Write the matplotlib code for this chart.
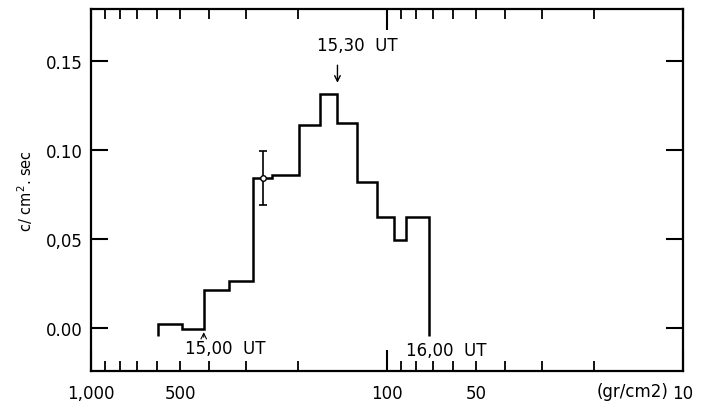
import matplotlib
matplotlib.use("Agg")
import matplotlib.pyplot as plt
from matplotlib.ticker import FixedLocator, FuncFormatter

# Data: atmospheric depth bin edges (g/cm^2) and count rate values
depth_edges = [595, 494, 416, 343, 283, 244, 199, 168, 147, 126, 108, 95, 86, 72]
rate_values = [0.002, -0.001, 0.021, 0.026, 0.084, 0.086, 0.114, 0.131, 0.115,
               0.082, 0.062, 0.049, 0.062]
baseline_value = -0.005

err_depth = [262]
err_value = [0.084]
err_low = [0.069]
err_high = [0.099]

x_major = [1000, 100, 10]
x_major_labels = ["1,000", "100", "10"]
x_minor_labeled = {500: "500", 50: "50"}
y_ticks = [0.00, 0.05, 0.10, 0.15]
y_tick_labels = ["0.00", "0,05", "0.10", "0.15"]

plt.rcParams['font.family'] = ['DejaVu Sans']

fig = plt.figure(figsize=(7.01, 4.06), dpi=100)
ax = fig.add_axes([0.1298, 0.0837, 0.8445, 0.8916])

ax.stairs(rate_values, depth_edges, baseline=baseline_value, fill=False,
          color='black', linewidth=1.8)

ax.errorbar(err_depth, err_value,
            yerr=[[err_value[0] - err_low[0]], [err_high[0] - err_value[0]]],
            fmt='o', mfc='white', mec='black', ms=4, color='black',
            elinewidth=1.2, capsize=3, capthick=1.2)

ax.set_xscale('log')
ax.set_xlim(1000, 10)
ax.set_ylim(-0.0244, 0.179)

ax.xaxis.set_major_locator(FixedLocator(x_major))
ax.set_xticklabels(x_major_labels)
minors = [m * d for d in (10, 100) for m in range(2, 10)]
ax.xaxis.set_minor_locator(FixedLocator(minors))
ax.xaxis.set_minor_formatter(FuncFormatter(
    lambda v, p: x_minor_labeled.get(int(round(v)), "")))

ax.set_yticks(y_ticks)
ax.set_yticklabels(y_tick_labels)

ax.tick_params(axis='both', which='major', direction='in', length=15, width=1.5,
               labelsize=12, top=True, right=True, pad=9)
ax.tick_params(axis='x', which='minor', direction='in', length=7, width=1.3,
               labelsize=12, top=True, pad=9)
ax.tick_params(axis='y', which='major', length=12, pad=6)

for s in ax.spines.values():
    s.set_linewidth(1.6)

ax.set_ylabel("c/ cm$^2$. sec", fontsize=10.5, labelpad=8)

# annotations
ax.annotate("", xy=(147, 0.136), xytext=(147, 0.149),
            arrowprops=dict(arrowstyle='->', color='black', lw=1.0))
ax.text(172, 0.159, "15,30  UT", fontsize=12, ha='left', va='center')

ax.annotate("", xy=(416, -0.001), xytext=(416, -0.007),
            arrowprops=dict(arrowstyle='->', color='black', lw=0.8))
ax.text(483, -0.0115, "15,00  UT", fontsize=12, ha='left', va='center')
ax.text(86, -0.0125, "16,00  UT", fontsize=12, ha='left', va='center')

fig.text(0.953, 0.035, "(gr/cm2)", fontsize=12, ha='right', va='center')

fig.savefig("out.png", dpi=100)
